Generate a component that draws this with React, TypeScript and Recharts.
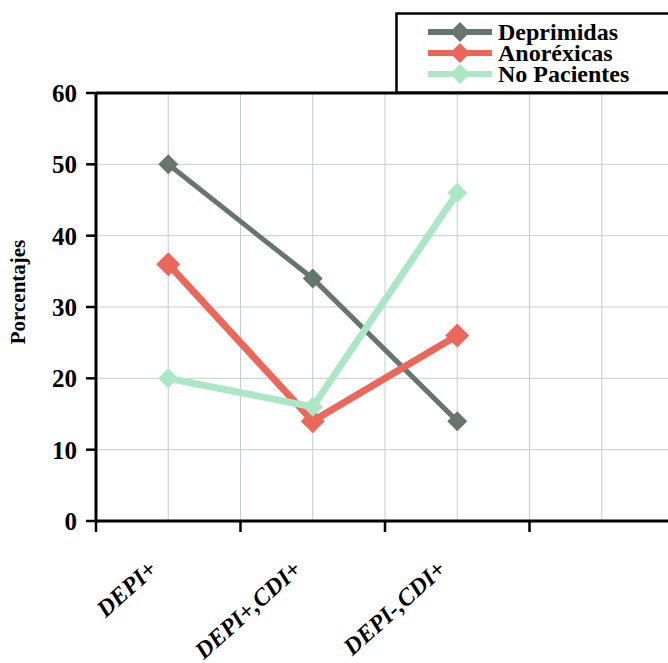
import React from 'react';
import {
  LineChart,
  Line,
  XAxis,
  YAxis,
  CartesianGrid,
  ReferenceLine,
  Legend,
} from 'recharts';

// Categories along the horizontal axis (the last band is left without a label).
const categories = ['DEPI+', 'DEPI+,CDI+', 'DEPI-,CDI+', ''];

// Percentages per group.
const deprimidas = [50, 34, 14, null];
const anorexicas = [36, 14, 26, null];
const noPacientes = [20, 16, 46, null];

const yTicks = [0, 10, 20, 30, 40, 50, 60];

const SERIF = "'Liberation Serif', 'Times New Roman', Times, serif";

const series = [
  { name: 'Deprimidas', values: deprimidas, color: '#65766f', width: 5, r: 10 },
  { name: 'Anoréxicas', values: anorexicas, color: '#ea675a', width: 7, r: 12 },
  { name: 'No Pacientes', values: noPacientes, color: '#abe7c4', width: 7, r: 10 },
];

const data = categories.map((categoria, i) => {
  const row: Record<string, string | number | null> = { categoria };
  series.forEach((s) => {
    row[s.name] = s.values[i];
  });
  return row;
});

const diamondPoints = (cx: number, cy: number, r: number) =>
  `${cx},${cy - r} ${cx + r},${cy} ${cx},${cy + r} ${cx - r},${cy}`;

const makeDot = (color: string, r: number) => (props: any) => {
  const { cx, cy, value, index } = props;
  if (cx == null || cy == null || value == null) return <g key={`d-${index}`} />;
  return <polygon key={`d-${index}`} points={diamondPoints(cx, cy, r)} fill={color} />;
};

// Category tick: a boundary tick mark at the left edge of each band plus a slanted label.
const CategoryTick = (props: any) => {
  const { x, y, payload } = props;
  const half = payload && payload.offset != null ? payload.offset : 0;
  const lx = x - 10;
  const ly = y + 50;
  return (
    <g>
      <line x1={x - half} y1={y} x2={x - half} y2={y + 11} stroke="#000" strokeWidth={2.5} />
      <text
        x={lx}
        y={ly}
        transform={`rotate(-42, ${lx}, ${ly})`}
        textAnchor="end"
        style={{ fontFamily: SERIF, fontWeight: 'bold', fontStyle: 'italic', fontSize: 24 }}
        fill="#000"
      >
        {payload.value}
      </text>
    </g>
  );
};

const renderYLabel = (props: any) => {
  const vb = props.viewBox || { x: 0, y: 0, width: 0, height: 0 };
  const x = vb.x + 25;
  const y = vb.y + vb.height / 2 - 15;
  return (
    <text
      x={x}
      y={y}
      transform={`rotate(-90, ${x}, ${y})`}
      textAnchor="middle"
      style={{ fontFamily: SERIF, fontWeight: 'bold', fontSize: 21 }}
      fill="#000"
    >
      Porcentajes
    </text>
  );
};

const renderLegend = (props: any) => {
  const payload = [...(props.payload || [])].sort(
    (a: any, b: any) =>
      series.findIndex((s) => s.name === a.value) - series.findIndex((s) => s.name === b.value)
  );
  return (
    <svg width={300} height={82} style={{ display: 'block' }}>
      <rect x={1.5} y={1.5} width={297} height={79} fill="#fff" stroke="#000" strokeWidth={2.5} />
      {payload.map((entry: any, i: number) => {
        const cfg = series.find((s) => s.name === entry.value) || series[i];
        const cy = 20 + 21 * i;
        return (
          <g key={entry.value}>
            <line x1={33} y1={cy} x2={97} y2={cy} stroke={cfg.color} strokeWidth={6} />
            <polygon points={diamondPoints(65, cy, 10)} fill={cfg.color} />
            <text
              x={103}
              y={cy + 8}
              style={{ fontFamily: SERIF, fontWeight: 'bold', fontSize: 24 }}
              fill="#000"
            >
              {entry.value}
            </text>
          </g>
        );
      })}
    </svg>
  );
};

// Vertical grid: band edges and band centres.
const gridVerticals = ({ offset }: any) => {
  const n = categories.length;
  const band = offset.width / n;
  const out: number[] = [];
  for (let i = 1; i < 2 * n; i++) out.push(offset.left + (i * band) / 2);
  return out;
};

export default function App() {
  return (
    <div
      style={{
        position: 'absolute',
        left: 0,
        top: 0,
        width: 668,
        height: 663,
        overflow: 'hidden',
        background: '#fff',
      }}
    >
      <LineChart
        width={674}
        height={663}
        data={data}
        margin={{ top: 93, right: 0, bottom: 0, left: 0 }}
      >
        <CartesianGrid
          stroke="#c6ccc9"
          strokeWidth={1}
          verticalCoordinatesGenerator={gridVerticals}
        />
        <XAxis
          dataKey="categoria"
          type="category"
          scale="band"
          interval={0}
          height={142}
          tickSize={0}
          tickMargin={0}
          tickLine={false}
          axisLine={{ stroke: '#000', strokeWidth: 3 }}
          tick={<CategoryTick />}
        />
        <YAxis
          domain={[0, 60]}
          ticks={yTicks}
          width={96}
          tickSize={10}
          tickMargin={9}
          axisLine={{ stroke: '#000', strokeWidth: 3 }}
          tickLine={{ stroke: '#000', strokeWidth: 2.5 }}
          tick={{ fill: '#000', fontSize: 25, fontWeight: 'bold', fontFamily: SERIF }}
          label={renderYLabel}
        />
        <ReferenceLine y={60} stroke="#000" strokeWidth={3} />
        {series.map((s) => (
          <Line
            key={s.name}
            type="linear"
            dataKey={s.name}
            name={s.name}
            stroke={s.color}
            strokeWidth={s.width}
            dot={makeDot(s.color, s.r)}
            activeDot={false}
            isAnimationActive={false}
          />
        ))}
        <Legend
          layout="vertical"
          align="center"
          verticalAlign="middle"
          wrapperStyle={{ left: 395, top: 12, width: 300, height: 82 }}
          content={renderLegend}
        />
      </LineChart>
    </div>
  );
}
